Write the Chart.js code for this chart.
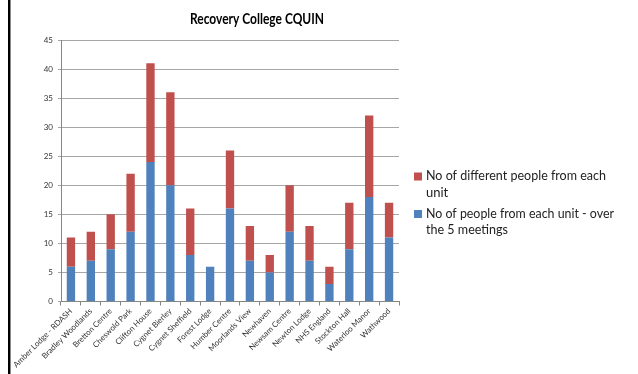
<!DOCTYPE html>
<html>
<head>
<meta charset="utf-8">
<script src="https://cdn.jsdelivr.net/npm/chart.js@4"></script>
<style>
  html, body { margin:0; padding:0; background:#fff; }
  #wrap { position:relative; width:638px; height:374px; overflow:hidden; }
  #edge { position:absolute; left:8px; top:0; width:2px; height:374px; background:#000; }
  #edge2 { position:absolute; left:10px; top:0; width:1px; height:374px; background:#888; }
  canvas { position:absolute; left:0; top:0; }
</style>
</head>
<body>
<div id="wrap">
  <canvas id="c" width="638" height="374"></canvas>
  <div id="edge"></div><div id="edge2"></div>
</div>
<script>
const chartTitle = "Recovery College CQUIN";
const categories = ["Amber Lodge - RDASH","Bradley Woodlands","Bretton Centre","Cheswold Park","Clifton House","Cygnet Bierley","Cygnet Sheffield","Forest Lodge","Humber Centre","Moorlands View","Newhaven","Newsam Centre","Newton Lodge","NHS England","Stockton Hall","Waterloo Manor","Wathwood"];
const seriesOverMeetings = [6,7,9,12,24,20,8,6,16,7,5,12,7,3,9,18,11];
const seriesDifferent = [5,5,6,10,17,16,8,0,10,6,3,8,6,3,8,14,6];
const labelOverMeetings = ["No of people from each unit - over", "the 5 meetings"];
const labelDifferent = ["No of different people from each", "unit"];
const yTicks = [0,5,10,15,20,25,30,35,40,45];

const blue = "#4F81BD", red = "#C0504D";

const extras = {
  id: "extras",
  afterDraw(chart) {
    const ctx = chart.ctx;
    ctx.save();
    // title
    ctx.fillStyle = "#000";
    ctx.font = "bold 14.5px Lato, 'Open Sans', sans-serif";
    ctx.textAlign = "center";
    ctx.textBaseline = "alphabetic";
    ctx.fillText(chartTitle, 257, 24, 134);
    // legend (reverse order of stacking, like Excel)
    const items = [
      {lines: chart.data.datasets[1].legendLines, color: chart.data.datasets[1].backgroundColor, sq: 172.5, base: [180, 196.5], w: [180, 30]},
      {lines: chart.data.datasets[0].legendLines, color: chart.data.datasets[0].backgroundColor, sq: 210, base: [217.5, 233.5], w: [188, 82]}
    ];
    ctx.textAlign = "left";
    ctx.font = "13px Lato, 'Open Sans', sans-serif";
    items.forEach(it => {
      ctx.fillStyle = it.color;
      ctx.fillRect(414, it.sq, 8, 8);
      ctx.fillStyle = "#222";
      it.lines.forEach((t, i) => ctx.fillText(t, 426, it.base[i], it.w[i]));
    });
    ctx.restore();
  }
};

new Chart(document.getElementById("c"), {
  type: "bar",
  data: {
    labels: categories,
    datasets: [
      { label: labelOverMeetings.join(" "), legendLines: labelOverMeetings, data: seriesOverMeetings, backgroundColor: blue, borderWidth: 0, categoryPercentage: 1, barPercentage: 0.42 },
      { label: labelDifferent.join(" "), legendLines: labelDifferent, data: seriesDifferent, backgroundColor: red, borderWidth: 0, categoryPercentage: 1, barPercentage: 0.42 }
    ]
  },
  options: {
    responsive: false,
    animation: false,
    events: [],
    layout: { padding: { left: 14, right: 239, top: 40, bottom: 0 } },
    plugins: { legend: { display: false }, title: { display: false }, tooltip: { enabled: false } },
    scales: {
      x: {
        stacked: true,
        grid: { display: true, drawOnChartArea: false, offset: true, tickLength: 4, color: "#868686" },
        border: { color: "#868686" },
        ticks: { maxRotation: 45, minRotation: 45, autoSkip: false, color: "#333", font: { family: "Lato, 'Open Sans', sans-serif", size: 7.9 }, padding: 1 },
        afterFit(s) { s.height = 72.5; }
      },
      y: {
        stacked: true,
        min: 0, max: 45,
        afterBuildTicks(s) { s.ticks = yTicks.map(v => ({ value: v })); },
        grid: { color: "#a6a6a6", tickLength: 3 },
        border: { color: "#868686" },
        ticks: { color: "#333", font: { family: "Lato, 'Open Sans', sans-serif", size: 8 }, padding: 5 },
        afterFit(s) { s.width = 47; }
      }
    }
  },
  plugins: [extras]
});
</script>
</body>
</html>
